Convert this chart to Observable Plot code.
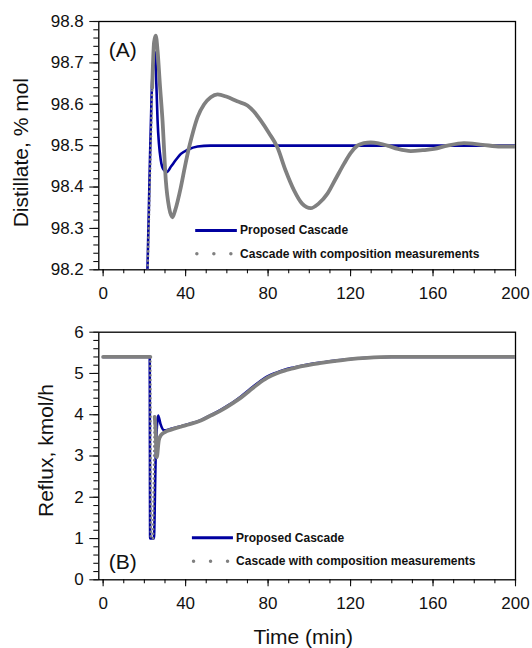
<!DOCTYPE html>
<html>
<head>
<meta charset="utf-8">
<script src="https://cdn.jsdelivr.net/npm/d3@7"></script>
<script src="https://cdn.jsdelivr.net/npm/@observablehq/plot@0.6"></script>
<style>
  html, body { margin: 0; padding: 0; background: #fff; }
  svg { display: block; }
</style>
</head>
<body>
<div id="chart"></div>
<script>
// ---------- Data ----------
// Panel A: distillate composition, % mol
const timeA_proposed = [20.8, 21.5, 22.5, 23.5, 24.5, 25.1, 25.6, 26.4, 28, 29.3, 30.9, 33, 35.5, 37.7, 41, 45.8, 52, 80, 120, 160, 200];
const distA_proposed = [98.1, 98.2, 98.42, 98.62, 98.71, 98.726, 98.68, 98.561, 98.464, 98.442, 98.436, 98.45, 98.467, 98.48, 98.49, 98.498, 98.5, 98.5, 98.5, 98.5, 98.5];

const timeA_composition = [20.9, 21.6, 22.7, 23.8, 24.7, 25.5, 26.4, 27.5, 28.8, 30.4, 32, 33.6, 35, 37.7, 39.7, 41.7, 43.7, 45.8, 49, 52.2, 55.5, 60, 65, 70, 73, 76.4, 80.5, 84.5, 88.5, 92.6, 96.5, 100.7, 104.5, 108.8, 112.8, 116.8, 120, 123.3, 126.5, 129.8, 134, 137.9, 143, 149.2, 155, 160.5, 167, 175, 184, 192.8, 200];
const distA_composition = [98.1, 98.2, 98.42, 98.64, 98.75, 98.766, 98.73, 98.65, 98.561, 98.416, 98.35, 98.327, 98.345, 98.4, 98.45, 98.496, 98.535, 98.569, 98.6, 98.617, 98.624, 98.618, 98.607, 98.597, 98.583, 98.561, 98.53, 98.496, 98.44, 98.392, 98.36, 98.349, 98.36, 98.384, 98.42, 98.456, 98.482, 98.5, 98.506, 98.508, 98.505, 98.5, 98.492, 98.487, 98.489, 98.492, 98.5, 98.506, 98.502, 98.498, 98.498];

// Panel B: reflux, kmol/h
const timeB_proposed = [0, 22.6, 22.8, 24.6, 25.5, 26.7, 27.8, 29.6, 33, 37.7, 42, 47.4, 52.2, 57, 63.5, 67, 71, 75, 79.7, 84, 88, 92, 95.8, 100, 105, 112, 120, 128, 140, 200];
const refluxB_proposed = [5.4, 5.4, 1.0, 1.0, 3.0, 3.98, 3.78, 3.62, 3.66, 3.72, 3.78, 3.87, 3.99, 4.12, 4.32, 4.45, 4.61, 4.77, 4.93, 5.02, 5.09, 5.14, 5.18, 5.22, 5.26, 5.31, 5.35, 5.38, 5.4, 5.4];

const timeB_composition = [0, 22.9, 23.1, 24.2, 24.6, 25, 25.4, 26, 27, 28, 30, 33, 37.7, 42, 47.4, 52.2, 57, 63.5, 67, 71, 75, 79.7, 84, 88, 92, 95.8, 100, 105, 112, 120, 128, 140, 200];
const refluxB_composition = [5.4, 5.4, 1.0, 1.0, 2.5, 3.95, 3.7, 2.97, 3.38, 3.5, 3.58, 3.64, 3.71, 3.77, 3.86, 3.98, 4.1, 4.3, 4.42, 4.58, 4.74, 4.9, 5.0, 5.07, 5.12, 5.17, 5.21, 5.25, 5.3, 5.35, 5.38, 5.4, 5.4];

// Series names and axis text
const seriesNames = ["Proposed Cascade", "Cascade with composition measurements"];
const xTicks = [0, 40, 80, 120, 160, 200];
const yTicksA = [98.2, 98.3, 98.4, 98.5, 98.6, 98.7, 98.8];
const yTicksB = [0, 1, 2, 3, 4, 5, 6];
const yTitleA = "Distillate, % mol";
const yTitleB = "Reflux, kmol/h";
const xTitle = "Time (min)";
const panelTags = ["(A)", "(B)"];

// ---------- Rendering ----------
const BLUE = "#0000a0";
const GRAY = "#808080";
const FONT = "'Liberation Sans', Arial, Helvetica, sans-serif";

const rows = (ts, vs) => ts.map((t, i) => ({t, v: vs[i]}));
const xMinor = d3.range(0, 201, 10);

function panel({height, marginTop, marginBottom, yDomain, yTicks, yMinor, yFormat, blueRows, grayRows, dotted, yTitle, titleDx, titleDy, tag, tagAnchor, tagDy, legend, xLabel}) {
  const [d0, d1] = dotted; // time span where the sparse gray markers show as dots
  const grayBefore = grayRows.filter(d => d.t <= d0);
  const grayDots = grayRows.filter(d => d.t >= d0 && d.t <= d1);
  const grayAfter = grayRows.filter(d => d.t >= d1);
  const grayLine = {x: d => d.t, y: d => d.v, stroke: GRAY, strokeWidth: 3.8, curve: "monotone-x", clip: true};
  const marks = [
    Plot.axisY({ticks: yMinor, tickSize: 5, tickFormat: () => "", label: null, strokeWidth: 1.1}),
    Plot.axisY({ticks: yTicks, tickSize: 9, tickPadding: 6, tickFormat: yFormat, fontSize: 17, label: null, strokeWidth: 1.1}),
    Plot.axisX({ticks: xMinor, tickSize: 4, tickFormat: () => "", label: null, strokeWidth: 1.1}),
    Plot.axisX({ticks: xTicks, tickSize: 7, tickPadding: 10, fontSize: 17, label: null, strokeWidth: 1.1}),
    Plot.frame({stroke: "black", strokeWidth: 1.3}),
    Plot.line(blueRows, {x: d => d.t, y: d => d.v, stroke: BLUE, strokeWidth: 2.6, curve: "monotone-x", clip: true}),
    Plot.line(grayBefore, grayLine),
    Plot.line(grayAfter, grayLine),
    Plot.line(grayDots, {x: d => d.t, y: d => d.v, stroke: GRAY, strokeWidth: 2.6, strokeDasharray: "0,4.6", strokeLinecap: "round", curve: "linear", clip: true}),
    // legend
    Plot.ruleY([legend.y1], {x1: legend.x1, x2: legend.x2, stroke: BLUE, strokeWidth: 3}),
    Plot.ruleY([legend.y2], {x1: legend.x1 + 0.8, x2: legend.x2 - 2.5, stroke: GRAY, strokeWidth: 3.5, strokeDasharray: "0,17", strokeLinecap: "round"}),
    Plot.text([seriesNames[0]], {text: d => d, x: legend.tx, y: legend.y1, textAnchor: "start", fontWeight: "bold", fontSize: 12, fill: "#111"}),
    Plot.text([seriesNames[1]], {text: d => d, x: legend.tx, y: legend.y2, textAnchor: "start", fontWeight: "bold", fontSize: 12, fill: "#111"}),
    // panel tag
    Plot.text([tag], {text: d => d, frameAnchor: tagAnchor, dx: 10, dy: tagDy, textAnchor: "start", lineAnchor: "middle", fontSize: 21, fill: "#111"}),
    // y title
    Plot.text([yTitle], {text: d => d, frameAnchor: "left", rotate: -90, dx: titleDx, dy: titleDy, textAnchor: "middle", lineAnchor: "middle", fontSize: 21, fill: "#111"})
  ];
  if (xLabel) {
    marks.push(Plot.text([xLabel], {text: d => d, frameAnchor: "bottom", dx: -4, dy: 57, textAnchor: "middle", lineAnchor: "middle", fontSize: 21, fill: "#111"}));
  }
  return Plot.plot({
    width: 532,
    height,
    marginLeft: 98.3,
    marginRight: 17,
    marginTop,
    marginBottom,
    x: {domain: [-2.1, 200]},
    y: {domain: yDomain},
    style: {fontFamily: FONT, color: "#111", background: "white", overflow: "visible"},
    marks
  });
}

const chart = document.getElementById("chart");

chart.append(panel({
  height: 300,
  marginTop: 21,
  marginBottom: 30.7,
  yDomain: [98.2, 98.8],
  yTicks: yTicksA,
  yMinor: d3.range(0, 31).map(i => 98.2 + i * 0.02),
  yFormat: d3.format(".1f"),
  blueRows: rows(timeA_proposed, distA_proposed),
  grayRows: rows(timeA_composition, distA_composition),
  dotted: [20.9, 23.8],
  yTitle: yTitleA,
  titleDx: -78,
  titleDy: 7,
  tag: panelTags[0],
  tagAnchor: "top-left",
  tagDy: 29,
  legend: {x1: 44.9, x2: 65.1, tx: 66.4, y1: 98.295, y2: 98.239},
  xLabel: null
}));

chart.append(panel({
  height: 348,
  marginTop: 31.7,
  marginBottom: 68.7,
  yDomain: [0, 6],
  yTicks: yTicksB,
  yMinor: d3.range(0, 31).map(i => i * 0.2),
  yFormat: d3.format("d"),
  blueRows: rows(timeB_proposed, refluxB_proposed),
  grayRows: rows(timeB_composition, refluxB_composition),
  dotted: [22.9, 25],
  yTitle: yTitleB,
  titleDx: -53,
  titleDy: -5.5,
  tag: panelTags[1],
  tagAnchor: "bottom-left",
  tagDy: -17.6,
  legend: {x1: 43.3, x2: 63.2, tx: 64.5, y1: 1.02, y2: 0.45},
  xLabel: xTitle
}));
</script>
</body>
</html>
